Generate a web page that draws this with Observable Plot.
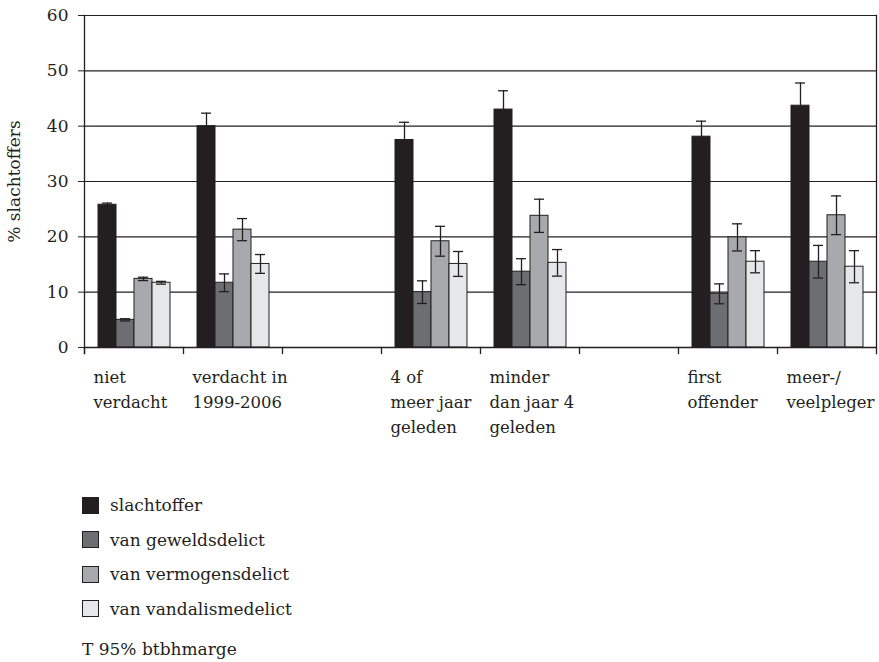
<!DOCTYPE html>
<html>
<head>
<meta charset="utf-8">
<script src="https://cdn.jsdelivr.net/npm/d3@7"></script>
<script src="https://cdn.jsdelivr.net/npm/@observablehq/plot@0.6"></script>
<style>
  html, body { margin: 0; padding: 0; background: #fff; }
  body { width: 879px; height: 662px; overflow: hidden; font-family: "DejaVu Serif", serif; color: #231f20; }
  #legend { margin-left: 82px; padding-top: 28px; font-size: 17px; }
  .row { display: flex; align-items: center; height: 34.5px; }
  .sw { width: 15px; height: 15px; border: 1px solid #231f20; margin-right: 11px; box-sizing: content-box; }
  .note { margin-top: 6px; height: 34.5px; display: flex; align-items: center; }
</style>
</head>
<body>
<div id="chart"></div>
<div id="legend"></div>
<script>
// Categories (two empty slots separate the three comparisons)
const groups = ["niet verdacht", "verdacht in 1999-2006", "leeg1", "4 of meer jaar geleden", "minder dan jaar 4 geleden", "leeg2", "first offender", "meer-/veelpleger"];
const groupLabels = ["niet\nverdacht", "verdacht in\n1999-2006", "", "4 of\nmeer jaar\ngeleden", "minder\ndan jaar 4\ngeleden", "", "first\noffender", "meer-/\nveelpleger"];
const series = ["slachtoffer", "van geweldsdelict", "van vermogensdelict", "van vandalismedelict"];
const seriesColors = ["#231f20", "#6d6e71", "#a7a9ac", "#e6e7e8"];

// Percentages per series
const slachtoffer = [25.8, 40.0, null, 37.5, 43.0, null, 38.1, 43.7];
const geweld      = [5.0, 11.7, null, 10.0, 13.7, null, 9.7, 15.5];
const vermogen    = [12.4, 21.3, null, 19.2, 23.8, null, 19.9, 23.9];
const vandalisme  = [11.7, 15.1, null, 15.1, 15.3, null, 15.5, 14.6];

// 95% betrouwbaarheidsmarges (half-width)
const margeSlachtoffer = [0.3, 2.35, null, 3.2, 3.4, null, 2.8, 4.1];
const margeGeweld      = [0.2, 1.6, null, 2.05, 2.35, null, 1.8, 2.95];
const margeVermogen    = [0.3, 2.0, null, 2.7, 3.0, null, 2.45, 3.5];
const margeVandalisme  = [0.25, 1.7, null, 2.25, 2.4, null, 2.0, 2.9];

const yTicks = [0, 10, 20, 30, 40, 50, 60];

const values = [slachtoffer, geweld, vermogen, vandalisme];
const marges = [margeSlachtoffer, margeGeweld, margeVermogen, margeVandalisme];
const rows = [];
groups.forEach((g, i) => {
  values.forEach((vals, s) => {
    if (vals[i] != null) rows.push({group: g, series: series[s], value: vals[i], lo: vals[i] - marges[s][i], hi: vals[i] + marges[s][i]});
  });
});
const labelRows = groups.map((g, i) => ({group: g, label: groupLabels[i]}));

const W = 879, H = 460, mT = 15, mB = 113, mL = 84, mR = 3;
const plotH = H - mT - mB;
const ink = "#231f20";
const FS = 16.5;

const chart = Plot.plot({
  width: W, height: H,
  marginTop: mT, marginBottom: mB, marginLeft: mL, marginRight: mR,
  style: {fontFamily: "DejaVu Serif, serif", fontSize: FS + "px", color: ink, background: "#fff", overflow: "visible"},
  fx: {domain: groups, padding: 0, axis: null},
  x: {domain: series, paddingInner: 0, paddingOuter: 0.71, axis: null},
  y: {domain: [0, 60], axis: null},
  color: {domain: series, range: seriesColors},
  marks: [
    Plot.ruleY(yTicks.filter(d => d > 0), {stroke: ink, strokeWidth: 1.1}),
    Plot.axisY({ticks: yTicks, tickSize: 6, tickPadding: 10, tickFormat: d => d, label: "% slachtoffers", labelAnchor: "center", labelArrow: "none", labelOffset: 77, stroke: ink, fontSize: 17}),
    Plot.barY(rows, {fx: "group", x: "series", y: "value", fill: "series", stroke: ink, strokeWidth: 1}),
    Plot.ruleX(rows, {fx: "group", x: "series", y1: "lo", y2: "hi", stroke: ink, strokeWidth: 1.3}),
    Plot.tickY(rows, {fx: "group", x: "series", y: "hi", stroke: ink, strokeWidth: 1.3, insetLeft: 4, insetRight: 4}),
    Plot.tickY(rows, {fx: "group", x: "series", y: "lo", stroke: ink, strokeWidth: 1.3, insetLeft: 4, insetRight: 4}),
    Plot.ruleY([0], {stroke: ink, strokeWidth: 1.3}),
    Plot.frame({anchor: "left", insetTop: plotH, insetBottom: -6, stroke: ink, strokeWidth: 1.3}),
    Plot.frame({anchor: "left", insetBottom: -6, stroke: ink, strokeWidth: 1.3, facetAnchor: "left"}),
    Plot.frame({anchor: "right", insetBottom: -6, stroke: ink, strokeWidth: 1.3, facetAnchor: "right"}),
    Plot.text(labelRows, {fx: "group", text: "label", frameAnchor: "bottom-left", textAnchor: "start", lineAnchor: "top", dx: 9, dy: 18, lineHeight: 25 / FS, fill: ink, fontSize: FS})
  ]
});
document.getElementById("chart").appendChild(chart);

const legend = document.getElementById("legend");
series.forEach((s, i) => {
  const row = document.createElement("div");
  row.className = "row";
  const sw = document.createElement("span");
  sw.className = "sw";
  sw.style.background = seriesColors[i];
  row.appendChild(sw);
  row.appendChild(document.createTextNode(s));
  legend.appendChild(row);
});
const note = document.createElement("div");
note.className = "note";
note.textContent = "T 95% btbhmarge";
legend.appendChild(note);
</script>
</body>
</html>
